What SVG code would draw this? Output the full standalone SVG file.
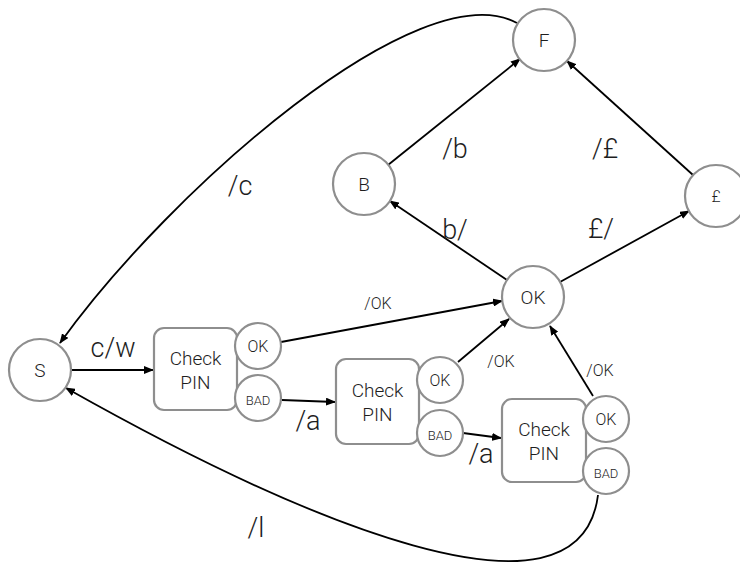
<svg xmlns="http://www.w3.org/2000/svg" width="740" height="563" viewBox="0 0 740 563">
<style>
.n{fill:#fff;stroke:#8e8e8e;stroke-width:2.2}
.t{font-family:Roboto,"Liberation Sans",Arial,sans-serif;font-weight:300;fill:#1e1e1e;text-anchor:middle}
.e{fill:none;stroke:#000;stroke-width:1.8}
.big{font-size:27px}
.sm{font-size:16px}
</style>
<defs>
<marker id="ah" markerUnits="userSpaceOnUse" markerWidth="10" markerHeight="8" refX="9" refY="4" orient="auto">
<path d="M0,0 L10,4 L0,8 Z" fill="#000"/>
</marker>
</defs>
<rect width="740" height="563" fill="#fff"/>
<g id="connectors">
<path class="e" marker-end="url(#ah)" d="M72,370 L153,370"/>
<path class="e" marker-end="url(#ah)" d="M281,342 L502,301"/>
<path class="e" marker-end="url(#ah)" d="M282,400 L335,402"/>
<path class="e" marker-end="url(#ah)" d="M458,362 L509,319"/>
<path class="e" marker-end="url(#ah)" d="M463,433 L501,438"/>
<path class="e" marker-end="url(#ah)" d="M593,396 L550,326"/>
<path class="e" marker-end="url(#ah)" d="M507,280 L390,201"/>
<path class="e" marker-end="url(#ah)" d="M560,282 L689,211"/>
<path class="e" marker-end="url(#ah)" d="M388,165 L520,59"/>
<path class="e" marker-end="url(#ah)" d="M693,175 L567,61"/>
<path class="e" marker-end="url(#ah)" d="M517,23 C420,-30 170,190 60,343"/>
<path class="e" marker-end="url(#ah)" d="M598,495 C580,640 300,520 66,388"/>
<text class="t big" x="113" y="357">c/w</text>
<text class="t big" x="240" y="195">/c</text>
<text class="t big" x="455" y="158">/b</text>
<text class="t big" x="605" y="158">/£</text>
<text class="t big" x="455" y="239">b/</text>
<text class="t big" x="601" y="238">£/</text>
<text class="t sm" x="378" y="309">/OK</text>
<text class="t sm" x="501" y="367">/OK</text>
<text class="t sm" x="600" y="376">/OK</text>
<text class="t big" x="308" y="430">/a</text>
<text class="t big" x="481" y="463">/a</text>
<text class="t big" x="256" y="537">/l</text>
</g>
<g id="S"><circle class="n" cx="40" cy="370" r="31"/><text class="t" x="40" y="377" font-size="19">S</text></g>
<g id="F"><circle class="n" cx="544" cy="40" r="31"/><text class="t" x="544" y="47" font-size="19">F</text></g>
<g id="B"><circle class="n" cx="364" cy="184" r="31"/><text class="t" x="364" y="191" font-size="19">B</text></g>
<g id="Pound"><circle class="n" cx="716" cy="196" r="31"/><text class="t" x="716" y="202" font-size="16">£</text></g>
<g id="OK"><circle class="n" cx="533" cy="297" r="31"/><text class="t" x="533" y="304" font-size="19">OK</text></g>
<g id="check1">
<rect class="n" x="154" y="328" width="83" height="82" rx="10"/>
<text class="t" x="195.5" y="365" font-size="19">Check</text>
<text class="t" x="195.5" y="389" font-size="19">PIN</text>
<circle class="n" cx="258" cy="346" r="23"/><text class="t" x="258" y="352" font-size="16">OK</text>
<circle class="n" cx="258" cy="398" r="23"/><text class="t" x="258" y="405" font-size="13">BAD</text>
</g>
<g id="check2">
<rect class="n" x="336" y="359" width="83" height="85" rx="10"/>
<text class="t" x="377.5" y="397" font-size="19">Check</text>
<text class="t" x="377.5" y="421" font-size="19">PIN</text>
<circle class="n" cx="440" cy="380" r="23"/><text class="t" x="440" y="386" font-size="16">OK</text>
<circle class="n" cx="440" cy="433" r="23"/><text class="t" x="440" y="440" font-size="13">BAD</text>
</g>
<g id="check3">
<rect class="n" x="502" y="399" width="84" height="83" rx="10"/>
<text class="t" x="544" y="436" font-size="19">Check</text>
<text class="t" x="544" y="460" font-size="19">PIN</text>
<circle class="n" cx="606" cy="419" r="23"/><text class="t" x="606" y="425" font-size="16">OK</text>
<circle class="n" cx="606" cy="471" r="23"/><text class="t" x="606" y="478" font-size="13">BAD</text>
</g>
</svg>
